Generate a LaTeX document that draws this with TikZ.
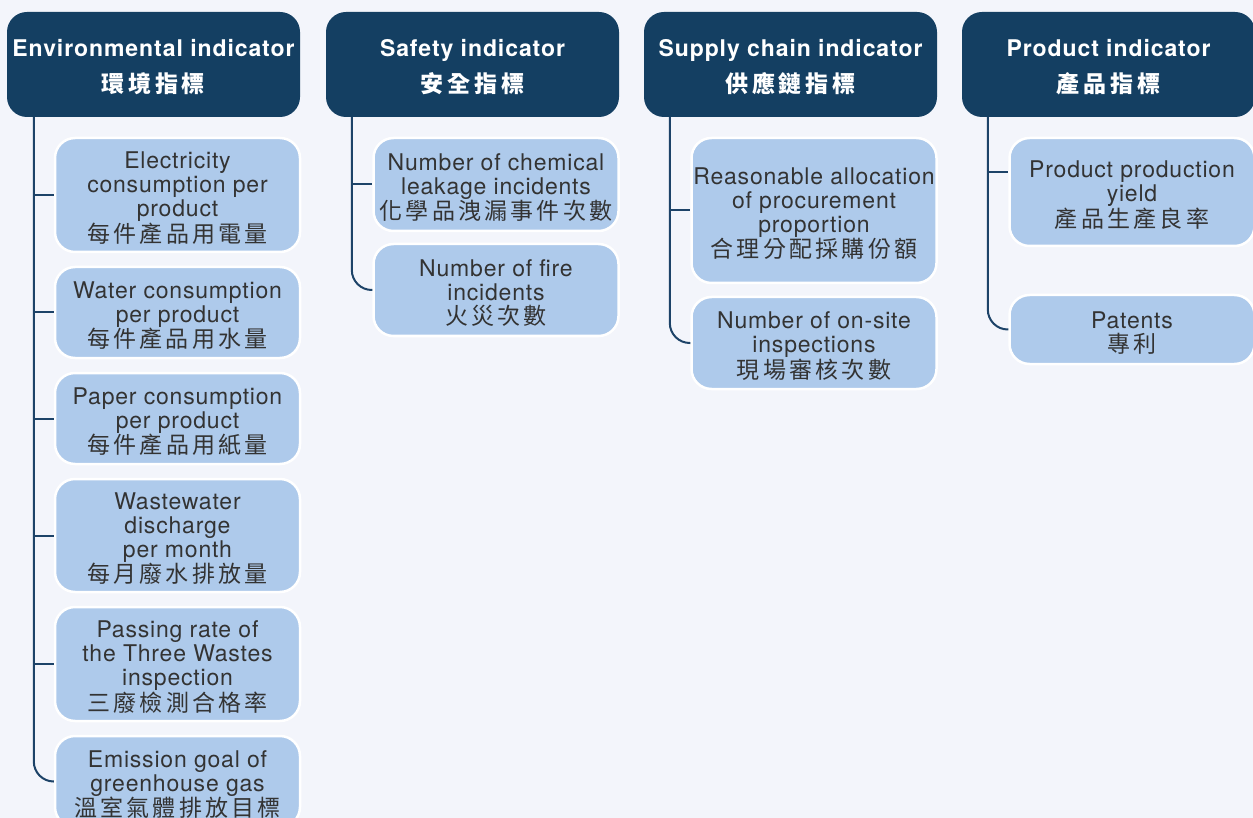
\documentclass[tikz,border=0pt]{standalone}
\usepackage{fontspec}
\setmainfont{TeX Gyre Heros}
\newfontfamily\lat{TeX Gyre Heros}[LetterSpace=3.5]
\newfontfamily\latb{TeX Gyre Heros}[LetterSpace=4]
\newfontfamily\cjk{Noto Sans CJK TC}[LetterSpace=14]
\newfontfamily\cjkh{Noto Sans CJK TC}[LetterSpace=16]
\newcommand{\hst}{\rule{0pt}{23pt}}
\newcommand{\ist}{\rule{0pt}{23pt}}
\definecolor{bgc}{HTML}{F3F5FB}
\definecolor{hdrc}{HTML}{143F62}
\definecolor{itemc}{HTML}{AECAEB}
\definecolor{linec}{HTML}{1D4368}
\definecolor{textc}{HTML}{333333}
\begin{document}
\begin{tikzpicture}[x=1pt,y=-1pt,
  hdr/.style={fill=hdrc, rounded corners=20pt, minimum width=293pt, minimum height=105pt,
    text=white, align=center, font=\latb\bfseries\fontsize{23}{36}\selectfont, inner sep=0pt},
  item/.style={fill=itemc, draw=white, line width=2.5pt, rounded corners=20pt,
    minimum width=245pt, text=textc, align=center,
    font=\lat\fontsize{23}{24}\selectfont, inner sep=0pt},
  conn/.style={draw=linec, line width=2pt},
  lastconn/.style={conn, rounded corners=20pt}]
\fill[bgc] (0,0) rectangle (1253,818);
\clip (0,0) rectangle (1253,818);

% headers
\node[hdr] (eh) at (153.5,64.5) {\hst Environmental indicator\\{\cjkh 環境指標}};
\node[hdr] (sh) at (472.5,64.5) {\hst Safety indicator\\{\cjkh 安全指標}};
\node[hdr] (ph) at (790.5,64.5) {\hst Supply chain indicator\\{\cjkh 供應鏈指標}};
\node[hdr] (dh) at (1108.5,64.5) {\hst Product indicator\\{\cjkh 產品指標}};

% environmental items
\node[item, minimum height=114pt] (e1) at (177.5,195) {\ist Electricity\\consumption per\\product\\{\cjk 每件產品用電量}};
\node[item, minimum height=91pt] (e2) at (177.5,312.5) {\ist Water consumption\\per product\\{\cjk 每件產品用水量}};
\node[item, minimum height=91pt] (e3) at (177.5,418.5) {\ist Paper consumption\\per product\\{\cjk 每件產品用紙量}};
\node[item, minimum height=113pt] (e4) at (177.5,535.5) {\ist Wastewater\\discharge\\per month\\{\cjk 每月廢水排放量}};
\node[item, minimum height=114pt] (e5) at (177.5,664) {\ist Passing rate of\\the Three Wastes\\inspection\\{\cjk 三廢檢測合格率}};
\node[item, minimum height=91pt] (e6) at (177.5,781.5) {\ist Emission goal of\\greenhouse gas\\{\cjk 溫室氣體排放目標}};

% safety items
\node[item, minimum height=93pt] (s1) at (496,184.5) {\ist Number of chemical\\leakage incidents\\{\cjk 化學品洩漏事件次數}};
\node[item, minimum height=92pt] (s2) at (496,290) {\ist Number of fire\\incidents\\{\cjk 火災次數}};

% supply chain items
\node[item, minimum height=145pt] (p1) at (814,210.5) {\ist Reasonable allocation\\of procurement\\proportion\\{\cjk 合理分配採購份額}};
\node[item, minimum height=92pt] (p2) at (814,343) {\ist Number of on-site\\inspections\\{\cjk 現場審核次數}};

% product items
\node[item, minimum height=108pt] (d1) at (1132,192) {\ist Product production\\yield\\{\cjk 產品生產良率}};
\node[item, minimum height=69pt] (d2) at (1132,329.5) {\ist Patents\\{\cjk 專利}};

% connectors
\coordinate (ev) at ([xshift=27pt]eh.south west);
\coordinate (sv) at ([xshift=26pt]sh.south west);
\coordinate (pv) at ([xshift=26pt]ph.south west);
\coordinate (dv) at ([xshift=26pt]dh.south west);

\draw[conn] (ev) |- (e1.west);
\draw[conn] (ev) |- (e2.west);
\draw[conn] (ev) |- (e3.west);
\draw[conn] (ev) |- (e4.west);
\draw[conn] (ev) |- (e5.west);
\draw[lastconn] (ev) |- (e6.west);

\draw[conn] (sv) |- (s1.west);
\draw[lastconn] (sv) |- (s2.west);

\draw[conn] (pv) |- (p1.west);
\draw[lastconn] (pv) |- (p2.west);

\draw[conn] (dv) |- ([yshift=20pt]d1.west);
\draw[lastconn] (dv) |- (d2.west);
\end{tikzpicture}
\end{document}
